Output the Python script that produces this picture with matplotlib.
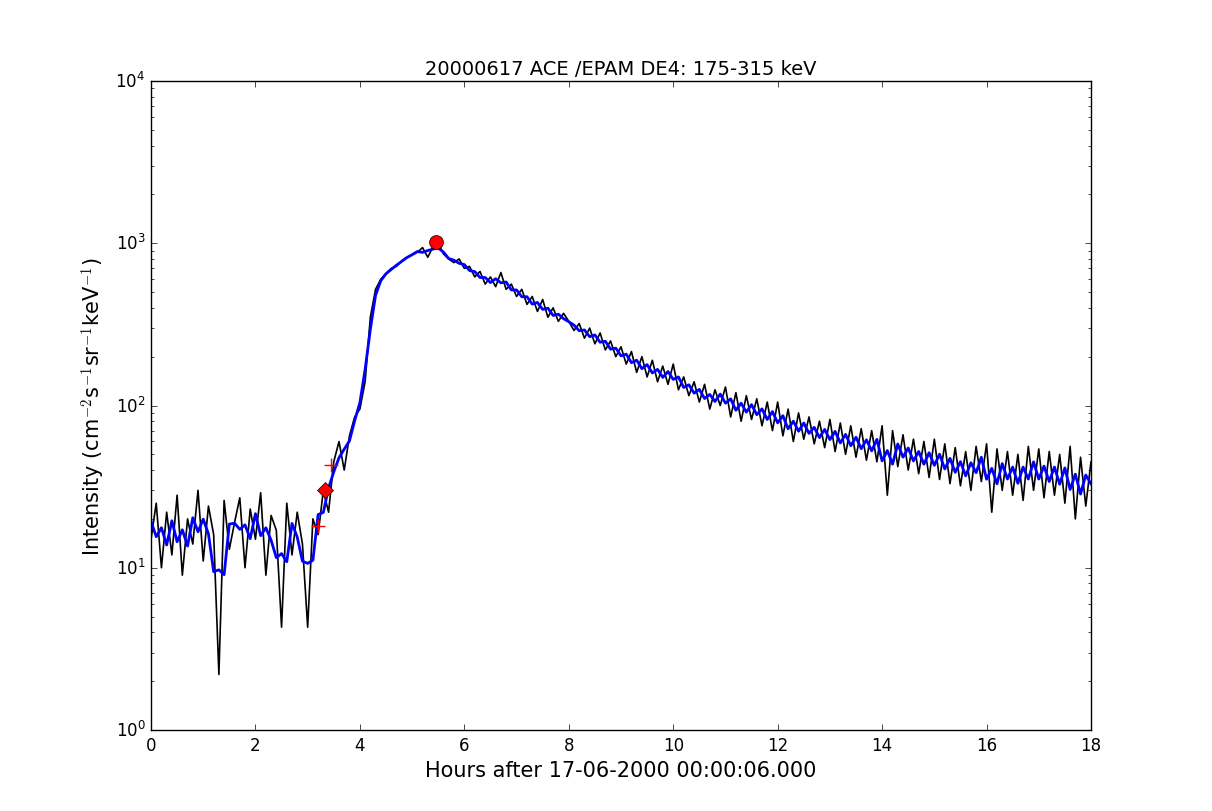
import matplotlib
matplotlib.use("Agg")
import matplotlib.pyplot as plt
import numpy as np
import pandas as pd

plt.style.use('classic')

hours = np.round(np.arange(0, 18.01, 0.1), 1)
intensity = [15,25,10,22,12,28,9,20,14,30,11,24,16,2.2,26,13,19,27,10,23,15,29,9,21,17,4.3,25,12,22,14,4.3,20,16,
 30,22,45,60,40,65,85,95,
 140,350,520,600,650,700,720,780,820,
 850,880,940,820,950,1000,860,800,760,800,
 700,720,620,670,560,620,540,660,520,560,
 470,520,420,470,380,450,350,400,330,370,
 330,290,320,260,300,240,280,220,250,200,
 230,180,215,160,200,150,190,140,175,135,
 180,125,150,115,140,105,135,95,125,100,
 130,85,120,80,115,82,110,75,105,70,
 105,65,95,60,90,62,85,58,80,55,
 82,52,78,50,75,48,72,46,70,45,
 75,28,70,42,66,40,62,38,60,36,
 62,35,58,33,55,32,52,30,56,34,
 58,22,54,30,52,28,50,26,56,30,
 54,27,52,28,50,25,56,20,48,24,
 45]
smooth = np.exp(pd.Series(np.log(intensity)).rolling(3, center=True, min_periods=1).mean())

onset_x, onset_y = [3.33], [30]
peak_x, peak_y = [5.45], [1020]
plus_x, plus_y = [3.45, 3.2], [43, 18]

fig = plt.figure(figsize=(12.12, 8.12), dpi=100, facecolor='white')
ax = fig.add_axes([151/1212, 1-731/812, 940/1212, 649/812])
ax.plot(hours, intensity, color='black', lw=1.2)
ax.plot(hours, smooth, color='blue', lw=2)
ax.plot(plus_x, plus_y, '+', color='red', ms=10, mew=1)
ax.plot(onset_x, onset_y, 'D', color='red', ms=8)
ax.plot(peak_x, peak_y, 'o', color='red', ms=10)
ax.set_yscale('log')
ax.set_xlim(0, 18)
ax.set_ylim(1, 1e4)
ax.set_xticks(range(0, 19, 2))
ax.set_title('20000617 ACE /EPAM DE4: 175-315 keV', fontsize=14)
ax.set_xlabel('Hours after 17-06-2000 00:00:06.000', fontsize=15)
ax.set_ylabel(r'Intensity (cm$^{-2}$s$^{-1}$sr$^{-1}$keV$^{-1}$)', fontsize=15)
fig.savefig('out.png', dpi=100, facecolor='white')
